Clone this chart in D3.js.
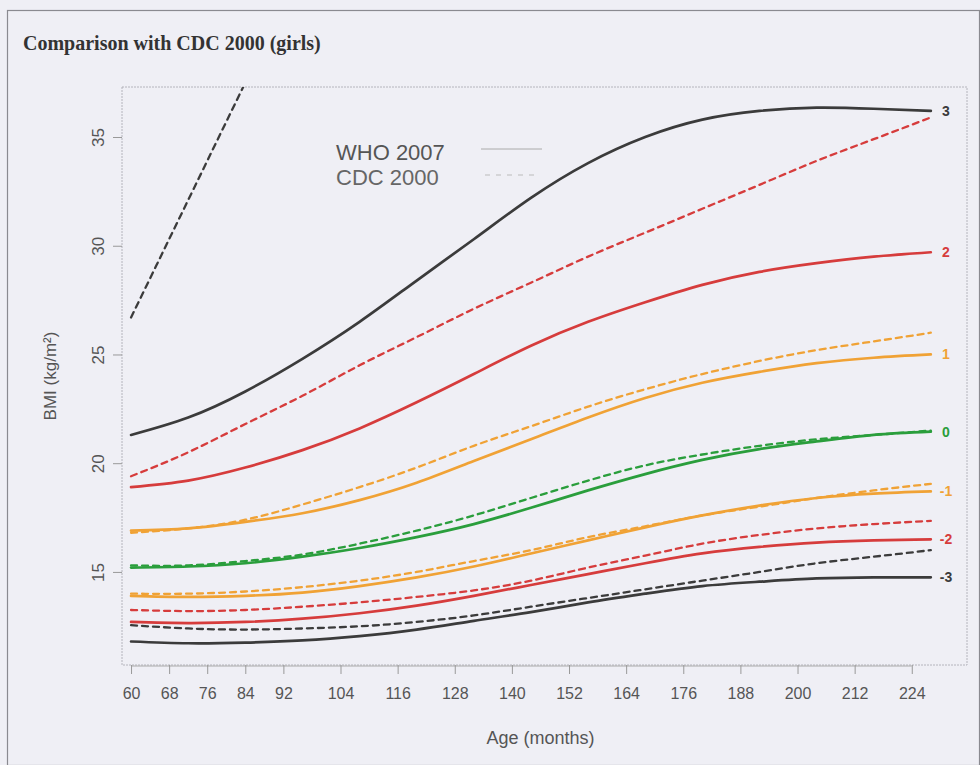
<!DOCTYPE html>
<html>
<head>
<meta charset="utf-8">
<script src="https://cdnjs.cloudflare.com/ajax/libs/d3/7.8.5/d3.min.js"></script>
<style>
  body { margin: 0; background: #efeff5; }
  svg { display: block; }
</style>
</head>
<body>
<script>
'use strict';

// months where the curves are sampled
const months = [60, 72, 84, 96, 108, 120, 132, 144, 156, 168, 180, 192, 204, 216, 228];

// WHO 2007 z-score curves (solid)
const whoP3 = [21.3, 22.1, 23.3, 24.8, 26.5, 28.4, 30.3, 32.2, 33.8, 35.0, 35.8, 36.2, 36.35, 36.3, 36.2];
const whoP2 = [18.9, 19.2, 19.8, 20.6, 21.6, 22.8, 24.1, 25.4, 26.5, 27.4, 28.2, 28.8, 29.2, 29.5, 29.7];
const whoP1 = [16.9, 17.0, 17.3, 17.7, 18.3, 19.1, 20.1, 21.1, 22.1, 23.0, 23.7, 24.2, 24.6, 24.85, 25.0];
const whoZ0 = [15.2, 15.25, 15.4, 15.7, 16.1, 16.6, 17.2, 17.95, 18.75, 19.5, 20.15, 20.65, 21.0, 21.3, 21.45];
const whoM1 = [13.9, 13.85, 13.9, 14.05, 14.35, 14.75, 15.25, 15.85, 16.45, 17.05, 17.6, 18.05, 18.4, 18.6, 18.7];
const whoM2 = [12.7, 12.65, 12.7, 12.85, 13.1, 13.45, 13.9, 14.4, 14.9, 15.4, 15.85, 16.15, 16.35, 16.45, 16.5];
const whoM3 = [11.8, 11.72, 11.75, 11.85, 12.05, 12.35, 12.75, 13.15, 13.6, 14.0, 14.35, 14.55, 14.7, 14.75, 14.75];

// CDC 2000 curves (dashed)
const cdcP3Months = [60, 66, 72, 78, 84, 90];
const cdcP3 = [26.7, 29.4, 32.1, 34.8, 37.5, 40.2];
const cdcP2 = [19.4, 20.5, 21.8, 23.1, 24.5, 25.8, 27.1, 28.3, 29.5, 30.6, 31.7, 32.8, 33.9, 34.9, 35.9];
const cdcP1 = [16.8, 17.0, 17.4, 18.1, 18.9, 19.8, 20.8, 21.7, 22.6, 23.4, 24.1, 24.7, 25.2, 25.6, 26.0];
const cdcZ0 = [15.3, 15.3, 15.5, 15.8, 16.3, 16.9, 17.6, 18.4, 19.2, 19.9, 20.4, 20.8, 21.1, 21.3, 21.5];
const cdcM1 = [14.0, 14.0, 14.1, 14.3, 14.6, 15.0, 15.5, 16.0, 16.6, 17.1, 17.6, 18.0, 18.4, 18.75, 19.05];
const cdcM2 = [13.25, 13.2, 13.25, 13.4, 13.6, 13.85, 14.15, 14.6, 15.2, 15.75, 16.3, 16.7, 17.0, 17.2, 17.35];
const cdcM3 = [12.55, 12.4, 12.35, 12.4, 12.5, 12.7, 13.0, 13.4, 13.8, 14.2, 14.6, 15.0, 15.4, 15.7, 16.0];

const xTicks = [60, 68, 76, 84, 92, 104, 116, 128, 140, 152, 164, 176, 188, 200, 212, 224];
const yTicks = [15, 20, 25, 30, 35];
const zLabels = ["3", "2", "1", "0", "-1", "-2", "-3"];

const col = {
  black: "#3b3b3b",
  red: "#d63c3c",
  orange: "#f0a235",
  green: "#2a9e3c"
};

const W = 980, H = 765;
const plot = { left: 122, right: 967, top: 87, bottom: 665 };

const svg = d3.select('body')
  .append('svg')
  .attr('width', W)
  .attr('height', H);

// outer frame
svg.append('rect')
  .attr('x', 7.5).attr('y', 10.5)
  .attr('width', W - 8).attr('height', H - 10)
  .attr('fill', '#efeff5')
  .attr('stroke', '#8a8a90')
  .attr('stroke-width', 1.2);

svg.append('text')
  .attr('x', 23)
  .attr('y', 50)
  .style('font-family', '"Liberation Serif", "Times New Roman", serif')
  .style('font-weight', 'bold')
  .style('font-size', '20px')
  .style('fill', '#333')
  .text('Comparison with CDC 2000 (girls)');

// scales
const x = d3.scaleLinear().domain([58.1, 235.6]).range([plot.left, plot.right]);
const y = d3.scaleLinear().domain([10.72, 37.3]).range([plot.bottom, plot.top]);

// plot box
svg.append('rect')
  .attr('x', plot.left).attr('y', plot.top)
  .attr('width', plot.right - plot.left)
  .attr('height', plot.bottom - plot.top)
  .attr('fill', 'none')
  .attr('stroke', '#b4b4bc')
  .attr('stroke-width', 1)
  .attr('stroke-dasharray', '2,1');

svg.append('clipPath').attr('id', 'clip')
  .append('rect')
  .attr('x', plot.left).attr('y', plot.top)
  .attr('width', plot.right - plot.left)
  .attr('height', plot.bottom - plot.top);

const axisFont = '"Liberation Sans", Arial, sans-serif';

// x axis
const xAxis = svg.append('g')
  .attr('transform', 'translate(0,' + plot.bottom + ')')
  .call(d3.axisBottom(x).tickValues(xTicks).tickSize(9).tickSizeOuter(0).tickPadding(14));
xAxis.select('.domain').attr('stroke', '#aaa').attr('d', 'M' + x(60) + ',1H' + x(224));
xAxis.selectAll('.tick line').attr('stroke', '#999');
xAxis.selectAll('text')
  .style('font-family', axisFont)
  .style('font-size', '16px')
  .style('fill', '#555');

// y axis
const yAxis = svg.append('g')
  .attr('transform', 'translate(' + plot.left + ',0)')
  .call(d3.axisLeft(y).tickValues(yTicks).tickSize(9).tickSizeOuter(0));
yAxis.select('.domain').remove();
yAxis.selectAll('.tick line').attr('stroke', '#999');
yAxis.selectAll('text')
  .attr('transform', 'rotate(-90)')
  .attr('x', 0)
  .attr('y', -18)
  .attr('dy', 0)
  .style('text-anchor', 'middle')
  .style('font-family', axisFont)
  .style('font-size', '17px')
  .style('fill', '#555');

// axis titles
svg.append('text')
  .attr('x', (plot.left + plot.right) / 2 - 4)
  .attr('y', 744)
  .style('text-anchor', 'middle')
  .style('font-family', axisFont)
  .style('font-size', '18px')
  .style('fill', '#555')
  .text('Age (months)');

svg.append('text')
  .attr('transform', 'translate(56, 376)rotate(-90)')
  .style('text-anchor', 'middle')
  .style('font-family', axisFont)
  .style('font-size', '17px')
  .style('fill', '#555')
  .text('BMI (kg/m²)');

// legend
svg.append('text')
  .attr('x', 336).attr('y', 160)
  .style('font-family', axisFont)
  .style('font-size', '22px')
  .style('fill', '#555')
  .text('WHO 2007');
svg.append('text')
  .attr('x', 336).attr('y', 185)
  .style('font-family', axisFont)
  .style('font-size', '22px')
  .style('fill', '#666')
  .text('CDC 2000');
svg.append('line')
  .attr('x1', 481).attr('x2', 542).attr('y1', 149).attr('y2', 149)
  .attr('stroke', '#aaa').attr('stroke-width', 1);
svg.append('line')
  .attr('x1', 485).attr('x2', 540).attr('y1', 175).attr('y2', 175)
  .attr('stroke', '#bbb').attr('stroke-width', 1)
  .attr('stroke-dasharray', '5,6');

// curves
const line = d3.line()
  .x((d) => x(d[0]))
  .y((d) => y(d[1]))
  .curve(d3.curveNatural);

const curves = svg.append('g').attr('clip-path', 'url(#clip)');

function drawCurve(ms, vals, color, dashed) {
  const pts = ms.map((m, i) => [m, vals[i]]);
  curves.append('path')
    .datum(pts)
    .attr('d', line)
    .attr('fill', 'none')
    .attr('stroke', color)
    .attr('stroke-width', dashed ? 2.3 : 2.7)
    .attr('stroke-linecap', 'round')
    .attr('stroke-dasharray', dashed ? '6,5' : null);
}

const whoSeries = [whoP3, whoP2, whoP1, whoZ0, whoM1, whoM2, whoM3];
const cdcSeries = [cdcP2, cdcP1, cdcZ0, cdcM1, cdcM2, cdcM3];
const colors = [col.black, col.red, col.orange, col.green, col.orange, col.red, col.black];

drawCurve(cdcP3Months, cdcP3, col.black, true);
cdcSeries.forEach((s, i) => drawCurve(months, s, colors[i + 1], true));
whoSeries.forEach((s, i) => drawCurve(months, s, colors[i], false));

// z-score labels at the end of the WHO curves
svg.selectAll('.zlab')
  .data(zLabels)
  .enter()
  .append('text')
  .attr('class', 'zlab')
  .attr('x', 946)
  .attr('y', (d, i) => y(whoSeries[i][whoSeries[i].length - 1]) + 5)
  .style('text-anchor', 'middle')
  .style('font-family', axisFont)
  .style('font-size', '14px')
  .style('font-weight', 'bold')
  .style('fill', (d, i) => colors[i])
  .text((d) => d);
</script>
</body>
</html>
